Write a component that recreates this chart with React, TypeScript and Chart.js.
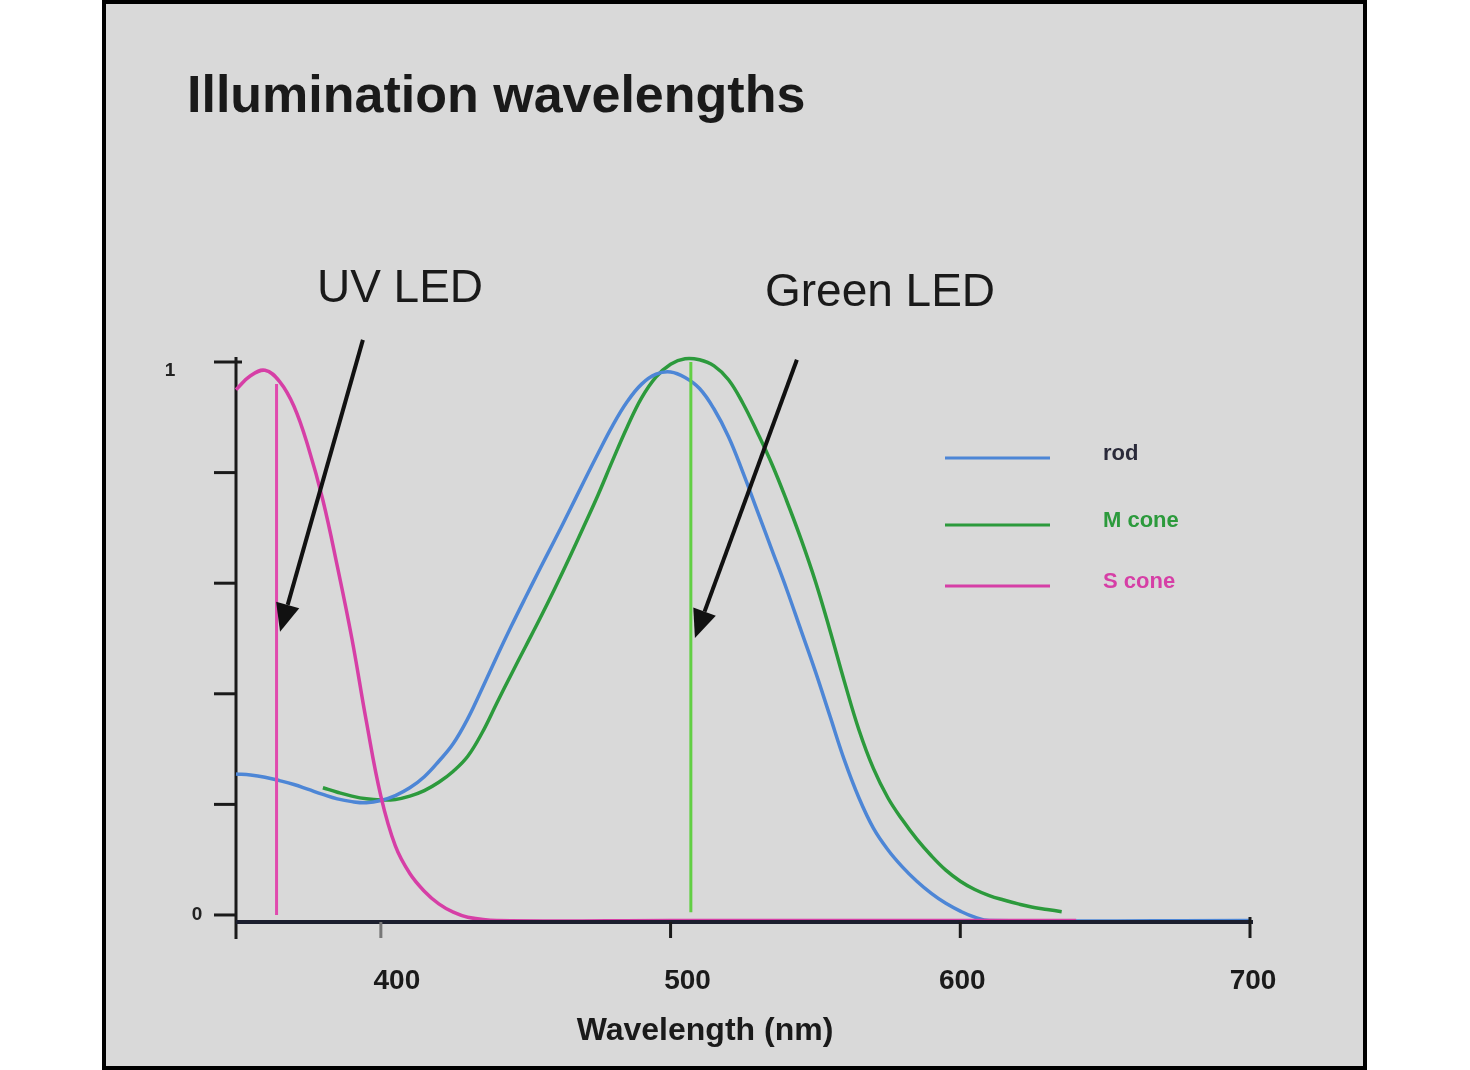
import React, { useEffect, useRef } from "react";
import { Chart, registerables } from "chart.js";

Chart.register(...registerables);

// ---- Data ----
const rodWavelengths = [350, 355, 360, 365, 370, 375, 380, 385, 390, 395, 400, 405, 410, 415, 420, 425, 430, 435, 440, 445, 450, 455, 460, 465, 470, 475, 480, 485, 490, 495, 500, 505, 510, 515, 520, 525, 530, 535, 540, 545, 550, 555, 560, 565, 570, 575, 580, 585, 590, 595, 600, 605, 610, 700];
const rodValues = [0.255, 0.253, 0.249, 0.243, 0.236, 0.227, 0.218, 0.21, 0.205, 0.203, 0.207, 0.216, 0.23, 0.25, 0.278, 0.31, 0.355, 0.41, 0.467, 0.522, 0.575, 0.627, 0.678, 0.73, 0.783, 0.835, 0.885, 0.928, 0.96, 0.978, 0.982, 0.972, 0.952, 0.915, 0.865, 0.8, 0.73, 0.66, 0.59, 0.515, 0.44, 0.36, 0.28, 0.212, 0.157, 0.118, 0.087, 0.061, 0.039, 0.021, 0.007, -0.004, -0.01, -0.01];

const mConeWavelengths = [380, 385, 390, 395, 400, 405, 410, 415, 420, 425, 430, 435, 440, 445, 450, 455, 460, 465, 470, 475, 480, 485, 490, 495, 500, 505, 510, 515, 520, 525, 530, 535, 540, 545, 550, 555, 560, 565, 570, 575, 580, 585, 590, 595, 600, 605, 610, 615, 620, 625, 630, 635];
const mConeValues = [0.23, 0.222, 0.215, 0.21, 0.208, 0.209, 0.215, 0.225, 0.24, 0.26, 0.287, 0.33, 0.383, 0.435, 0.486, 0.537, 0.59, 0.645, 0.702, 0.76, 0.822, 0.882, 0.935, 0.973, 0.996, 1.006, 1.004, 0.993, 0.968, 0.925, 0.872, 0.815, 0.75, 0.68, 0.603, 0.515, 0.422, 0.335, 0.265, 0.212, 0.172, 0.137, 0.107, 0.081, 0.061, 0.046, 0.035, 0.027, 0.02, 0.014, 0.01, 0.006];

const sConeWavelengths = [350, 355, 360, 365, 370, 375, 380, 385, 390, 395, 400, 405, 410, 415, 420, 425, 430, 440, 500, 640];
const sConeValues = [0.95, 0.975, 0.985, 0.965, 0.92, 0.845, 0.75, 0.63, 0.5, 0.35, 0.215, 0.125, 0.075, 0.043, 0.02, 0.005, -0.004, -0.01, -0.01, -0.01];

const uvLedWavelength = 364;
const uvLedRange = [0, 0.96];
const greenLedWavelength = 507;
const greenLedRange = [0.005, 1.0];

const xTickValues = [400, 500, 600, 700];
const xTickLabels = ["400", "500", "600", "700"];
const yTickValues = [0, 0.2, 0.4, 0.6, 0.8, 1];
const yTickLabels = ["0", "", "", "", "", "1"];

const seriesLabels = ["rod", "M cone", "S cone"];
const seriesColors = ["#4d86d6", "#2c9a3c", "#d63fa6"];

const FONT = "'Liberation Sans', Arial, sans-serif";

function zip(xs: number[], ys: number[]) {
  return xs.map((x, i) => ({ x, y: ys[i] }));
}

function drawArrow(ctx: CanvasRenderingContext2D, x1: number, y1: number, x2: number, y2: number) {
  const ang = Math.atan2(y2 - y1, x2 - x1);
  const headLen = 28;
  const headW = 12;
  const bx = x2 - headLen * Math.cos(ang);
  const by = y2 - headLen * Math.sin(ang);
  ctx.save();
  ctx.strokeStyle = "#111";
  ctx.fillStyle = "#111";
  ctx.lineWidth = 4;
  ctx.beginPath();
  ctx.moveTo(x1, y1);
  ctx.lineTo(bx, by);
  ctx.stroke();
  ctx.beginPath();
  ctx.moveTo(x2, y2);
  ctx.lineTo(bx + headW * Math.sin(ang), by - headW * Math.cos(ang));
  ctx.lineTo(bx - headW * Math.sin(ang), by + headW * Math.cos(ang));
  ctx.closePath();
  ctx.fill();
  ctx.restore();
}

const tickLabelShift = [16, 17, 2, 3];

const decoPlugin = {
  id: "deco",
  beforeDraw(chart: any) {
    const ctx = chart.ctx as CanvasRenderingContext2D;
    ctx.save();
    ctx.fillStyle = "#ffffff";
    ctx.fillRect(0, 0, chart.width, chart.height);
    ctx.fillStyle = "#d9d9d9";
    ctx.fillRect(104, 2, 1261, 1066);
    ctx.restore();
  },
  beforeDatasetsDraw(chart: any) {
    const ctx = chart.ctx as CanvasRenderingContext2D;
    const xs = chart.scales.x;
    const ys = chart.scales.y;
    const x0 = xs.getPixelForValue(350);
    const bottom = chart.chartArea.bottom;
    ctx.save();
    ctx.strokeStyle = "#1a1a1a";
    ctx.lineWidth = 3;
    ctx.beginPath();
    ctx.moveTo(x0, ys.getPixelForValue(1) - 5);
    ctx.lineTo(x0, bottom + 17);
    ctx.stroke();
    yTickValues.forEach((v, i) => {
      const y = ys.getPixelForValue(v);
      ctx.beginPath();
      ctx.moveTo(x0 - 22, y);
      ctx.lineTo(i === yTickValues.length - 1 ? x0 + 6 : x0, y);
      ctx.stroke();
      if (yTickLabels[i]) {
        ctx.fillStyle = "#222";
        ctx.font = `bold 19px ${FONT}`;
        ctx.textAlign = "center";
        ctx.textBaseline = "middle";
        const lx = v === 0 ? x0 - 39 : x0 - 66;
        ctx.fillText(yTickLabels[i], lx, y + (v === 0 ? 0 : 9));
      }
    });
    ctx.restore();
  },
  afterDatasetsDraw(chart: any) {
    const ctx = chart.ctx as CanvasRenderingContext2D;
    const xs = chart.scales.x;
    const ys = chart.scales.y;
    const x0 = xs.getPixelForValue(350);
    const bottom = chart.chartArea.bottom;
    ctx.save();
    // x axis (drawn over the curve tails, as in the reference)
    ctx.strokeStyle = "#1c1f2e";
    ctx.lineWidth = 4;
    ctx.beginPath();
    ctx.moveTo(x0, bottom);
    ctx.lineTo(xs.getPixelForValue(700) + 3, bottom);
    ctx.stroke();
    ctx.lineWidth = 3;
    xTickValues.forEach((v, i) => {
      const x = xs.getPixelForValue(v);
      ctx.strokeStyle = v === 400 ? "#777" : "#1a1a1a";
      ctx.beginPath();
      ctx.moveTo(x, v === 700 ? bottom - 5 : bottom);
      ctx.lineTo(x, bottom + 16);
      ctx.stroke();
      ctx.fillStyle = "#1a1a1a";
      ctx.font = `bold 28px ${FONT}`;
      ctx.textAlign = "center";
      ctx.textBaseline = "alphabetic";
      ctx.fillText(xTickLabels[i], x + tickLabelShift[i], bottom + 67);
    });
    ctx.font = `bold 32px ${FONT}`;
    ctx.textAlign = "center";
    ctx.fillText("Wavelength (nm)", 705, 1040);
    // Title
    ctx.fillStyle = "#1a1a1a";
    ctx.font = `bold 52px ${FONT}`;
    ctx.textAlign = "left";
    ctx.textBaseline = "alphabetic";
    ctx.fillText("Illumination wavelengths", 187, 112);
    // LED labels
    ctx.font = `46px ${FONT}`;
    ctx.textAlign = "center";
    ctx.fillText("UV LED", 400, 302);
    ctx.fillText("Green LED", 880, 306);
    // Arrows
    drawArrow(ctx, xs.getPixelForValue(393.8), ys.getPixelForValue(1.04), xs.getPixelForValue(365.2), ys.getPixelForValue(0.512));
    drawArrow(ctx, xs.getPixelForValue(543.6), ys.getPixelForValue(1.004), xs.getPixelForValue(508.4), ys.getPixelForValue(0.501));
    // Legend
    const legendY = [458, 525, 586];
    seriesLabels.forEach((lab, i) => {
      ctx.strokeStyle = seriesColors[i];
      ctx.lineWidth = 3;
      ctx.beginPath();
      ctx.moveTo(945, legendY[i]);
      ctx.lineTo(1050, legendY[i]);
      ctx.stroke();
      ctx.fillStyle = i === 0 ? "#2a2a3a" : seriesColors[i];
      ctx.font = `bold 22px ${FONT}`;
      ctx.textAlign = "left";
      ctx.textBaseline = "middle";
      ctx.fillText(lab, 1103, legendY[i] - 4);
    });
    // frame
    ctx.strokeStyle = "#000";
    ctx.lineWidth = 4;
    ctx.strokeRect(104, 2, 1261, 1066);
    ctx.restore();
  },
};

export default function App() {
  const ref = useRef<HTMLCanvasElement | null>(null);
  useEffect(() => {
    if (!ref.current) return;
    const line = (label: string, data: any[], color: string, width: number, tension: number) =>
      ({
        label,
        data,
        borderColor: color,
        borderWidth: width,
        pointRadius: 0,
        tension,
        clip: false,
      } as any);
    const chart = new Chart(ref.current, {
      type: "line",
      data: {
        datasets: [
          line("UV LED", [{ x: uvLedWavelength, y: uvLedRange[0] }, { x: uvLedWavelength, y: uvLedRange[1] }], "#e04aae", 3, 0),
          line("Green LED", [{ x: greenLedWavelength, y: greenLedRange[0] }, { x: greenLedWavelength, y: greenLedRange[1] }], "#62cf44", 3, 0),
          line(seriesLabels[2], zip(sConeWavelengths, sConeValues), seriesColors[2], 3.5, 0.4),
          line(seriesLabels[0], zip(rodWavelengths, rodValues), seriesColors[0], 3.5, 0.4),
          line(seriesLabels[1], zip(mConeWavelengths, mConeValues), seriesColors[1], 3.5, 0.4),
        ],
      },
      options: {
        responsive: false,
        animation: false,
        events: [],
        layout: { padding: { left: 236, right: 220, top: 362, bottom: 148 } },
        plugins: { legend: { display: false }, title: { display: false }, tooltip: { enabled: false } },
        scales: {
          x: { type: "linear", min: 350, max: 700, display: false },
          y: { type: "linear", min: -0.0127, max: 1, display: false },
        },
      },
      plugins: [decoPlugin],
    });
    return () => chart.destroy();
  }, []);
  return (
    <div style={{ position: "absolute", left: 0, top: 0, width: 1470, height: 1070 }}>
      <canvas ref={ref} width={1470} height={1070} style={{ width: 1470, height: 1070, display: "block" }} />
    </div>
  );
}
